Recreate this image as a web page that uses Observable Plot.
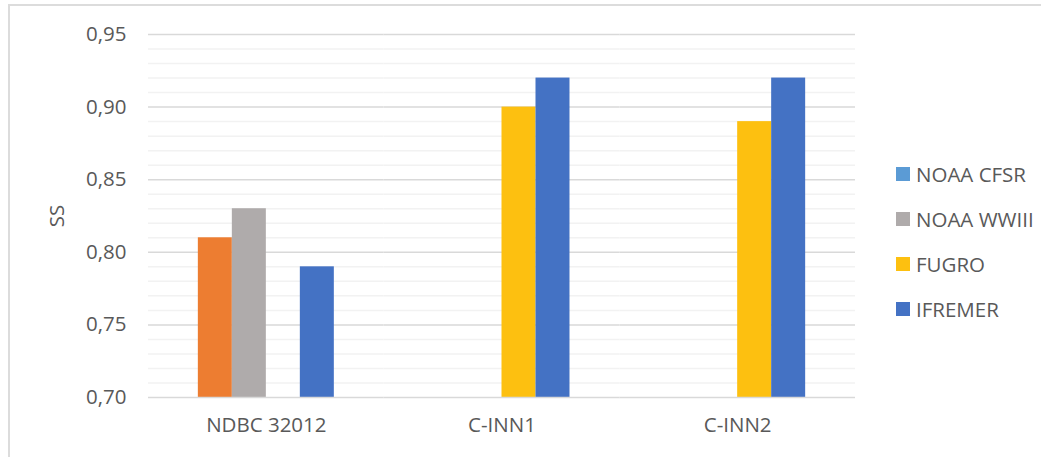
<!DOCTYPE html>
<html>
<head>
<meta charset="utf-8">
<script src="https://cdn.jsdelivr.net/npm/d3@7"></script>
<script src="https://cdn.jsdelivr.net/npm/@observablehq/plot@0.6"></script>
<style>
  html, body { margin: 0; padding: 0; background: #fff; }
  #wrap { position: relative; width: 1049px; height: 457px; overflow: hidden; font-family: "Open Sans", sans-serif; }
  #border { position: absolute; left: 8px; top: 4px; width: 1033px; height: 470px; border-top: 2px solid #dcdcdc; border-left: 2px solid #dcdcdc; box-sizing: border-box; }
  #legend { position: absolute; left: 896px; top: 151px; color: #595959; font-size: 20.5px; }
  .item { display: flex; align-items: center; height: 45px; }
  .sw { width: 14px; height: 14px; margin-right: 6px; }
  #chart { position: absolute; left: 0; top: 0; }
  #ytitle { position: absolute; left: 56px; top: 216px; transform: translate(-50%, -50%) rotate(-90deg); color: #595959; font-size: 20.5px; white-space: nowrap; }
</style>
</head>
<body>
<div id="wrap">
  <div id="border"></div>
  <div id="chart"></div>
  <div id="ytitle"></div>
  <div id="legend"></div>
</div>
<script>
const categories = ["NDBC 32012", "C-INN1", "C-INN2"];
const seriesNames = ["NOAA CFSR", "NOAA WWIII", "FUGRO", "IFREMER"];
const noaaCfsr = [0.81, null, null];
const noaaWwiii = [0.83, null, null];
const fugro = [null, 0.90, 0.89];
const ifremer = [0.79, 0.92, 0.92];
const barColors = ["#ED7D31", "#AFABAB", "#FDC010", "#4472C4"];
const legendColors = ["#5B9BD5", "#AFABAB", "#FDC010", "#4472C4"];
const yMajorTicks = [0.70, 0.75, 0.80, 0.85, 0.90, 0.95];
const yMinorTicks = [0.71, 0.72, 0.73, 0.74, 0.76, 0.77, 0.78, 0.79, 0.81, 0.82, 0.83, 0.84, 0.86, 0.87, 0.88, 0.89, 0.91, 0.92, 0.93, 0.94];
const yDomain = [0.70, 0.95];
const baseline = 0.70;
const yTitle = "SS";

const seriesValues = [noaaCfsr, noaaWwiii, fugro, ifremer];
const data = [];
seriesNames.forEach((s, j) => {
  categories.forEach((c, i) => {
    const v = seriesValues[j][i];
    if (v != null) data.push({category: c, series: s, value: v});
  });
});

const fmt = d => d.toFixed(2).replace(".", ",");

const chart = Plot.plot({
  width: 1049,
  height: 457,
  marginLeft: 148,
  marginRight: 194,
  marginTop: 34,
  marginBottom: 60,
  style: {fontFamily: "'Open Sans', sans-serif", fontSize: "20.5px", color: "#595959", background: "transparent"},
  fx: {domain: categories, padding: 0, round: false, label: null, axis: "bottom", tickSize: 0, tickPadding: 20},
  x: {domain: seriesNames, paddingInner: 0, paddingOuter: 1.466, round: false, axis: null},
  y: {domain: yDomain, ticks: yMajorTicks, tickFormat: fmt, tickSize: 0, tickPadding: 22, label: null},
  color: {domain: seriesNames, range: barColors},
  marks: [
    Plot.ruleY(yMinorTicks, {stroke: "#f2f2f2", strokeWidth: 1.5}),
    Plot.ruleY(yMajorTicks.filter(t => t !== baseline), {stroke: "#d9d9d9", strokeWidth: 1.5}),
    Plot.barY(data, {fx: "category", x: "series", y1: baseline, y2: "value", fill: "series", insetLeft: 0, insetRight: 0}),
    Plot.ruleY([baseline], {stroke: "#d9d9d9", strokeWidth: 1.5})
  ]
});
document.getElementById("chart").appendChild(chart);
document.getElementById("ytitle").textContent = yTitle;

const legend = document.getElementById("legend");
seriesNames.forEach((s, j) => {
  const it = document.createElement("div");
  it.className = "item";
  const sw = document.createElement("div");
  sw.className = "sw";
  sw.style.background = legendColors[j];
  const tx = document.createElement("span");
  tx.textContent = s;
  it.appendChild(sw);
  it.appendChild(tx);
  legend.appendChild(it);
});
</script>
</body>
</html>
